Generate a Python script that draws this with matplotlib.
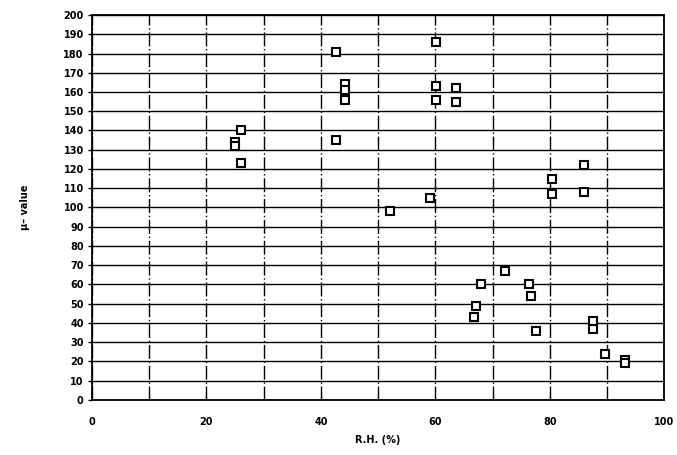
import numpy as np
import matplotlib.pyplot as plt

# relative humidity (%) and mu-value
rh = [26.0, 25.0, 25.0, 26.0, 42.7, 42.7, 44.2, 44.2, 44.2, 52.1, 59.0,
      60.2, 60.2, 60.2, 63.6, 63.7, 80.4, 80.4, 86.0, 86.0, 72.2, 68.0,
      76.3, 76.7, 67.2, 66.8, 77.6, 87.6, 87.6, 89.6, 93.1, 93.1]
mu = [140, 134, 132, 123, 181, 135, 164, 161, 156, 98, 105,
      186, 163, 156, 162, 155, 115, 107, 122, 108, 67, 60,
      60, 54, 49, 43, 36, 41, 37, 24, 21, 19]

xticks = np.arange(0, 101, 20)
yticks = np.arange(0, 201, 10)

fig = plt.figure(figsize=(6.77, 4.55), dpi=100)
ax = fig.add_axes([0.136, 0.121, 0.845, 0.846])

for v in np.arange(0, 101, 10):
    ax.axvline(v, color='black', lw=1.0, ls=(0, (10, 2, 1, 2)), zorder=1)
for v in yticks:
    ax.axhline(v, color='black', lw=1.0, zorder=1)

ax.plot(rh, mu, ls='none', marker='s', ms=6, mfc='white', mec='black',
        mew=1.5, zorder=3)

ax.set_xlim(0, 100)
ax.set_ylim(0, 200)
ax.set_xticks(xticks)
ax.set_yticks(yticks)
ax.tick_params(axis='y', length=3, width=1, labelsize=7, pad=3)
ax.tick_params(axis='x', length=0, labelsize=7, pad=12)
for lab in ax.get_xticklabels() + ax.get_yticklabels():
    lab.set_fontweight('bold')
for s in ax.spines.values():
    s.set_linewidth(1.3)

ax.set_xlabel('R.H. (%)', fontsize=7, fontweight='bold', labelpad=6)
ax.set_ylabel('µ– value', fontsize=7, fontweight='bold', labelpad=24)

fig.savefig('out.png', dpi=100)
